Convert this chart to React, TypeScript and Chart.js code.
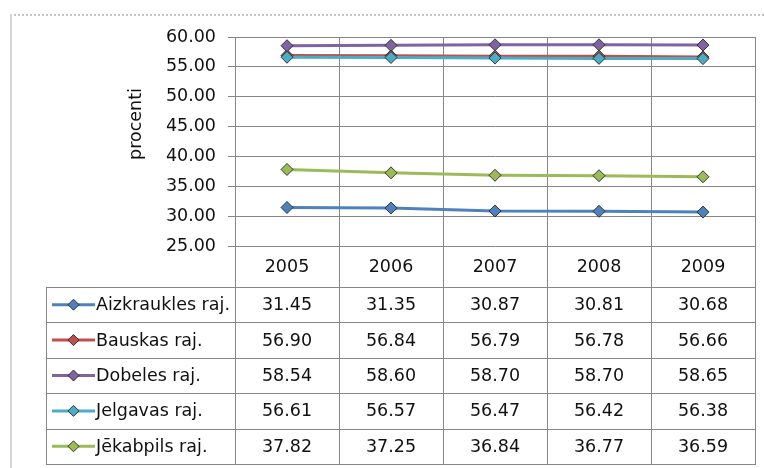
import React, { useEffect, useRef } from "react";
import { Chart, registerables } from "chart.js";

Chart.register(...registerables);

const years = ["2005", "2006", "2007", "2008", "2009"];
const seriesNames = ["Aizkraukles raj.", "Bauskas raj.", "Dobeles raj.", "Jelgavas raj.", "Jēkabpils raj."];
const aizkraukles = [31.45, 31.35, 30.87, 30.81, 30.68];
const bauskas = [56.9, 56.84, 56.79, 56.78, 56.66];
const dobeles = [58.54, 58.6, 58.7, 58.7, 58.65];
const jelgavas = [56.61, 56.57, 56.47, 56.42, 56.38];
const jekabpils = [37.82, 37.25, 36.84, 36.77, 36.59];
const seriesValues = [aizkraukles, bauskas, dobeles, jelgavas, jekabpils];
const seriesColors = ["#4F81BD", "#C0504D", "#8064A2", "#4BACC6", "#9BBB59"];
const yMin = 25;
const yMax = 60;
const yStep = 5;
const yTitle = "procenti";

const FONT_FAMILY = "'DejaVu Sans', sans-serif";
const FONT_SIZE = 17.5;
const GRID = "#868686";
const TEXT = "#111111";
const MARKER_BORDER = "rgba(30,30,30,0.85)";

function diamond(ctx: CanvasRenderingContext2D, x: number, y: number, r: number, fill: string) {
  ctx.beginPath();
  ctx.moveTo(x, y - r);
  ctx.lineTo(x + r, y);
  ctx.lineTo(x, y + r);
  ctx.lineTo(x - r, y);
  ctx.closePath();
  ctx.fillStyle = fill;
  ctx.fill();
  ctx.lineWidth = 1;
  ctx.strokeStyle = MARKER_BORDER;
  ctx.stroke();
}

const framePlugin = {
  id: "frame",
  beforeDraw(chart: any) {
    const ctx = chart.ctx as CanvasRenderingContext2D;
    ctx.save();
    ctx.fillStyle = "#ffffff";
    ctx.fillRect(0, 0, chart.width, chart.height);
    // dotted top border
    ctx.strokeStyle = "#c4c4c4";
    ctx.lineWidth = 2;
    ctx.setLineDash([2, 2]);
    ctx.beginPath();
    ctx.moveTo(10, 15);
    ctx.lineTo(chart.width, 15);
    ctx.stroke();
    ctx.setLineDash([]);
    // left solid border
    ctx.strokeStyle = "#d6d6d6";
    ctx.beginPath();
    ctx.moveTo(11, 14);
    ctx.lineTo(11, chart.height);
    ctx.stroke();
    // axis title
    ctx.fillStyle = TEXT;
    ctx.font = `${FONT_SIZE}px ${FONT_FAMILY}`;
    ctx.textAlign = "center";
    ctx.textBaseline = "middle";
    ctx.translate(136, 124);
    ctx.rotate(-Math.PI / 2);
    ctx.fillText(yTitle, 0, 0);
    ctx.restore();
  },
  afterDraw(chart: any) {
    const ctx = chart.ctx as CanvasRenderingContext2D;
    const area = chart.chartArea;
    const xs = chart.scales.x;
    const n = years.length;
    const centers = years.map((_, i) => xs.getPixelForValue(i));
    const bounds: number[] = [area.left];
    for (let i = 0; i < n - 1; i++) bounds.push((centers[i] + centers[i + 1]) / 2);
    bounds.push(area.right);

    const tableLeft = 46;
    const yearTop = area.bottom;
    const yearBottom = 287;
    const tableBottom = 464;
    const rowH = (tableBottom - yearBottom) / seriesNames.length;

    ctx.save();
    ctx.strokeStyle = GRID;
    ctx.lineWidth = 1;
    ctx.beginPath();
    bounds.forEach((bx) => {
      const px = Math.round(bx) + 0.5;
      ctx.moveTo(px, yearTop);
      ctx.lineTo(px, tableBottom);
    });
    ctx.moveTo(tableLeft + 0.5, yearBottom);
    ctx.lineTo(tableLeft + 0.5, tableBottom);
    for (let r = 0; r <= seriesNames.length; r++) {
      const py = Math.round(yearBottom + r * rowH) + 0.5;
      ctx.moveTo(tableLeft, py);
      ctx.lineTo(area.right + 1, py);
    }
    ctx.stroke();

    ctx.fillStyle = TEXT;
    ctx.font = `${FONT_SIZE}px ${FONT_FAMILY}`;
    ctx.textAlign = "center";
    ctx.textBaseline = "middle";
    years.forEach((y, i) => {
      ctx.fillText(y, centers[i], (yearTop + yearBottom) / 2 + 1);
    });

    seriesNames.forEach((name, r) => {
      const cy = yearBottom + r * rowH + rowH / 2;
      // legend key
      ctx.strokeStyle = seriesColors[r];
      ctx.lineWidth = 3;
      ctx.beginPath();
      ctx.moveTo(52, cy);
      ctx.lineTo(95, cy);
      ctx.stroke();
      diamond(ctx, 73.5, cy, 5.5, seriesColors[r]);
      ctx.fillStyle = TEXT;
      ctx.textAlign = "left";
      ctx.fillText(name, 96, cy + 1);
      ctx.textAlign = "center";
      seriesValues[r].forEach((v, i) => {
        ctx.fillText(v.toFixed(2), centers[i], cy + 1);
      });
    });
    ctx.restore();
  },
};

export default function App() {
  const ref = useRef<HTMLCanvasElement | null>(null);
  useEffect(() => {
    if (!ref.current) return;
    const chart = new Chart(ref.current, {
      type: "line",
      data: {
        labels: years,
        datasets: seriesNames.map((name, i) => ({
          label: name,
          data: seriesValues[i],
          borderColor: seriesColors[i],
          backgroundColor: seriesColors[i],
          borderWidth: 3,
          pointStyle: "rectRot",
          pointRadius: 6,
          pointBorderColor: MARKER_BORDER,
          pointBorderWidth: 1,
          pointBackgroundColor: seriesColors[i],
          tension: 0,
          fill: false,
          order: seriesNames.length - i,
        })),
      },
      options: {
        animation: false,
        responsive: false,
        layout: { padding: { left: 0, right: 9, top: 37, bottom: 222 } },
        plugins: { legend: { display: false }, tooltip: { enabled: false }, title: { display: false } },
        scales: {
          x: {
            offset: true,
            grid: { offset: true, color: GRID, lineWidth: 1, drawTicks: false },
            border: { display: false },
            ticks: { display: false },
            afterFit: (s: any) => {
              s.height = 0;
            },
          },
          y: {
            min: yMin,
            max: yMax,
            grid: { color: GRID, lineWidth: 1, tickLength: 7, drawTicks: true },
            border: { display: true, color: GRID, width: 1 },
            ticks: {
              stepSize: yStep,
              padding: 12,
              color: TEXT,
              font: { family: FONT_FAMILY, size: FONT_SIZE },
              callback: (v: any) => Number(v).toFixed(2),
            },
            afterFit: (s: any) => {
              s.width = 235;
            },
          },
        },
      },
      plugins: [framePlugin],
    });
    return () => chart.destroy();
  }, []);
  return (
    <div style={{ position: "absolute", left: 0, top: 0, width: 764, height: 468 }}>
      <canvas ref={ref} width={764} height={468} />
    </div>
  );
}
